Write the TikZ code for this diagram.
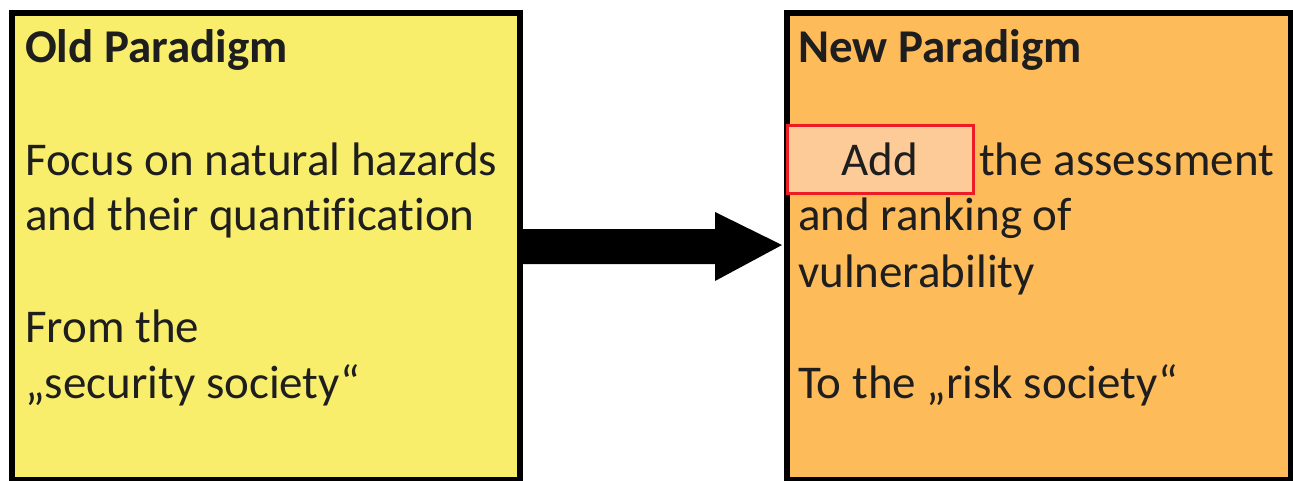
\documentclass[tikz,border=0pt]{standalone}
\usepackage{fontspec}
\setmainfont{Carlito}[Ligatures=NoCommon]
\usetikzlibrary{calc}
\definecolor{oldfill}{RGB}{249,238,108}
\definecolor{newfill}{RGB}{253,187,90}
\definecolor{addfill}{RGB}{253,203,152}
\definecolor{addline}{RGB}{237,28,36}
\definecolor{ink}{RGB}{30,30,30}
\begin{document}
\begin{tikzpicture}[x=1pt,y=-1pt,
  panel/.style={draw=black, line width=6pt, rectangle, anchor=north west, inner sep=0pt},
  txt/.style={anchor=base west, inner sep=0pt, text=ink, font=\fontsize{47}{56}\selectfont},
  ttl/.style={txt, font=\fontsize{47}{56}\selectfont\bfseries},
  addbox/.style={draw=addline, fill=addfill, line width=3pt, rectangle, inner sep=0pt}]
\useasboundingbox (0,0) rectangle (1293,480);

% the two paradigm panels
\node[panel, fill=oldfill, minimum width=508pt, minimum height=467pt] (old) at (9,10) {};
\node[panel, fill=newfill, minimum width=504pt, minimum height=467pt] (new) at (784,10) {};

% block arrow from old to new
\fill[black] ($(old.east)+(0,17.5)$) -- ($(new.west)+(-69,17.5)$) -- ($(new.west)+(-69,34.5)$)
  -- ($(new.west)+(-2,-1.5)$) -- ($(new.west)+(-69,-34.5)$) -- ($(new.west)+(-69,-17.5)$)
  -- ($(old.east)+(0,-17.5)$) -- cycle;

% left panel text
\node[ttl] (oldtitle) at (25,62) {Old Paradigm};
\node[txt] (oldl1) at (25,175) {Focus on natural hazards};
\node[txt] (oldl2) at (25,230) {and their quantification};
\node[txt] (oldl3) at (25,342) {From the};
\node[txt] (oldl4) at (25,398) {„security society“};

% right panel text
\node[ttl] (newtitle) at (798,62) {New Paradigm};
\node[addbox, minimum width=186pt, minimum height=68pt] (addrect) at (880,159) {};
\node[txt, anchor=base] (addword) at (880,175) {Add};
\node[txt] (newl1) at (979,175) {the assessment};
\node[txt] (newl2) at (798,230) {and ranking of};
\node[txt] (newl3) at (798,287) {vulnerability};
\node[txt] (newl4) at (798,398) {To the „risk society“};
\end{tikzpicture}
\end{document}
